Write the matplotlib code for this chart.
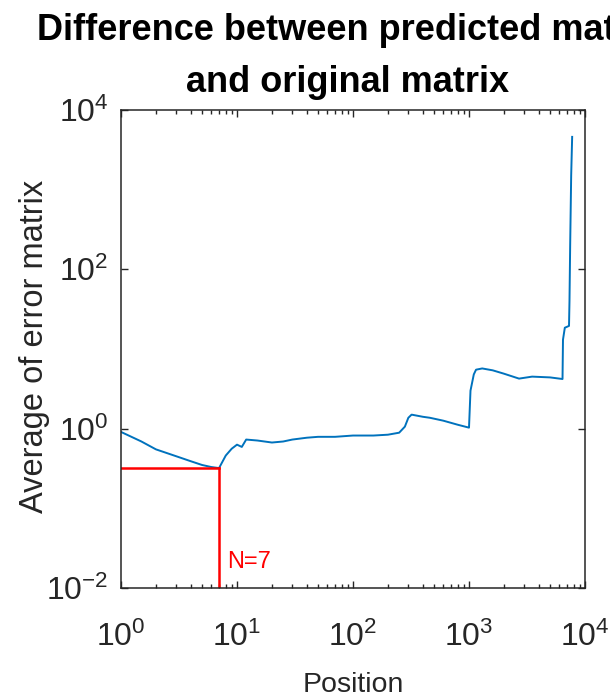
import matplotlib
matplotlib.use("Agg")
import matplotlib.pyplot as plt
from matplotlib.ticker import LogLocator, LogFormatterMathtext, NullLocator

plt.rcParams['font.family'] = ['Liberation Sans', 'DejaVu Sans']
plt.rcParams['mathtext.fontset'] = 'custom'
plt.rcParams['mathtext.rm'] = 'Liberation Sans'
plt.rcParams['mathtext.it'] = 'Liberation Sans:italic'
plt.rcParams['mathtext.bf'] = 'Liberation Sans:bold'

# average error per position
position = [1, 1.5, 2, 3, 4, 5, 6, 7, 8, 9, 10, 11, 12, 15, 20, 25, 30, 40, 50, 70,
            100, 150, 200, 250, 280, 300, 320, 400, 460, 600, 800, 1000, 1030, 1100,
            1150, 1300, 1600, 2000, 2700, 3500, 5000, 6400, 6460, 6700, 7000, 7280,
            7350, 7450, 7600, 7750]
avg_error = [0.91, 0.69, 0.55, 0.45, 0.39, 0.35, 0.33, 0.32, 0.46, 0.56, 0.63, 0.59,
             0.73, 0.71, 0.67, 0.69, 0.73, 0.77, 0.79, 0.79, 0.82, 0.82, 0.84, 0.89,
             1.06, 1.37, 1.5, 1.41, 1.37, 1.26, 1.12, 1.03, 3.0, 4.8, 5.5, 5.7, 5.4,
             4.9, 4.25, 4.5, 4.4, 4.2, 13.1, 18.5, 19, 19.5, 40, 200, 1500, 4600]

best_n = 7
best_err = 0.32

ink = '#262626'
W, H = 610, 697
fig = plt.figure(figsize=(W / 100, H / 100), dpi=100)
ax = fig.add_axes([121 / W, 1 - 588 / H, (585 - 121) / W, (588 - 110) / H])

ax.loglog(position, avg_error, color='#0072BD', lw=1.4)

# mark the chosen N
ax.plot([1, best_n], [best_err, best_err], color='#FF0000', lw=1.8)
ax.plot([best_n, best_n], [1e-2, best_err], color='#FF0000', lw=1.8)
ax.text(8.2, 0.018, 'N=%d' % best_n, color='#FF0000', fontsize=17,
        ha='left', va='baseline')

ax.set_xlim(1, 1e4)
ax.set_ylim(1e-2, 1e4)
ax.xaxis.set_major_locator(LogLocator(base=10, numticks=10))
ax.xaxis.set_minor_locator(LogLocator(base=10, subs=range(2, 10), numticks=20))
ax.yaxis.set_major_locator(LogLocator(base=100, numticks=10))
ax.yaxis.set_minor_locator(NullLocator())
ax.xaxis.set_major_formatter(LogFormatterMathtext())
ax.yaxis.set_major_formatter(LogFormatterMathtext())

ax.tick_params(which='both', direction='in', top=True, right=True, colors=ink,
               labelsize=23, width=1.0)
ax.tick_params(which='major', length=5)
ax.tick_params(which='minor', length=3)
ax.tick_params(axis='x', which='major', pad=24)
ax.tick_params(axis='y', which='major', pad=9)
for s in ax.spines.values():
    s.set_color(ink)
    s.set_linewidth(1.1)

ax.set_xlabel('Position', fontsize=20.5, color=ink, va='baseline')
ax.xaxis.set_label_coords(0.5, (588 - 692) / 478)
ax.set_ylabel('Average of error matrix', fontsize=23.5, color=ink)
ax.yaxis.set_label_coords((50 - 121) / 464, 0.505)

fig.text(348 / W, 1 - 40 / H, 'Difference between predicted matrix',
         fontsize=26, fontweight='bold', ha='center', va='baseline')
fig.text(348 / W, 1 - 92 / H, 'and original matrix',
         fontsize=26, fontweight='bold', ha='center', va='baseline')

fig.savefig('out.png', dpi=100)
